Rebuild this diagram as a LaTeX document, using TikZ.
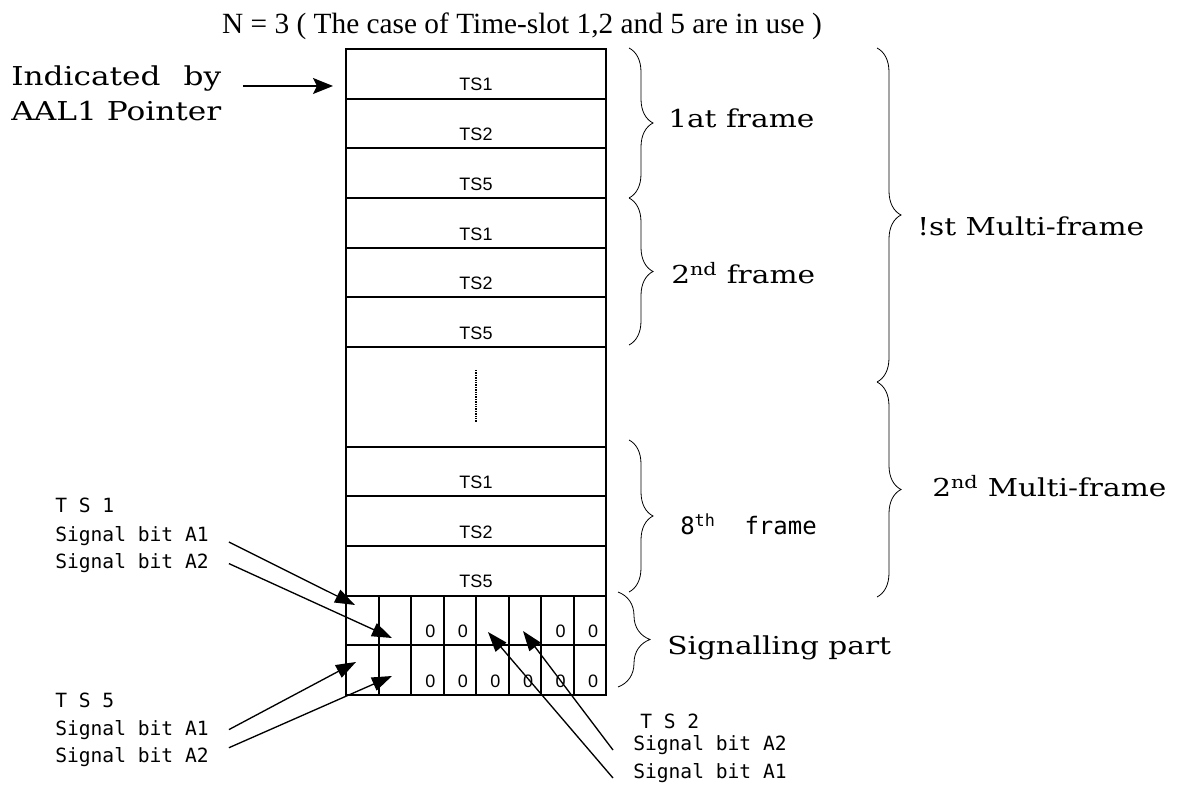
\documentclass[tikz,border=0pt]{standalone}
\usepackage{fontspec}
\usetikzlibrary{arrows.meta,decorations.pathreplacing}
\setmainfont{Liberation Serif}
\newfontfamily\labelserif[FakeStretch=1.2]{DejaVu Serif}
\newfontfamily\slotsans{Liberation Sans}
\newfontfamily\gothmono{DejaVu Sans Mono}
\newlength\ptrwidth
\settowidth\ptrwidth{\labelserif\fontsize{19.5}{23}\selectfont AAL1 Pointer}

\begin{document}
\begin{tikzpicture}[x=0.75pt,y=0.75pt,yscale=-1,xscale=1,
  frameline/.style={line width=1.5pt},
  slotlabel/.style={font=\slotsans\fontsize{13.5}{16}\selectfont, inner sep=0pt, anchor=base},
  bracelabel/.style={font=\labelserif\fontsize{18.5}{22}\selectfont, inner sep=0pt, anchor=base west},
  ptrlabel/.style={font=\labelserif\fontsize{19.5}{23}\selectfont, inner sep=0pt, anchor=base west},
  siglabel/.style={font=\gothmono\fontsize{14.7}{18}\selectfont, inner xsep=15pt, inner ysep=0pt, anchor=base west},
  sigarrow/.style={line width=1pt, -{Triangle[length=15pt,width=10.5pt]}},
  ptrarrow/.style={line width=1.1pt, -{Stealth[length=15pt,width=12pt,inset=3pt]}},
  framebrace/.style={decorate, decoration={brace, amplitude=18pt}, line width=0.6pt},
  multibrace/.style={decorate, decoration={brace, amplitude=18pt}, line width=0.6pt}
]
\useasboundingbox (0,0) rectangle (1186,787);

% Text Node
\node [font=\fontsize{22}{26}\selectfont, inner sep=0pt, anchor=base] (title) at (522,34) {N = 3 ( The case of Time-slot 1,2 and 5 are in use )};

%Shape: Rectangle
\draw [frameline] (346,49) rectangle (606,695.1);
%Straight Lines
\foreach \y in {98.7,148.4,198.1,247.8,297.5,347.2,446.6,496.3,546,595.7,645.4}
  \draw [frameline] (346,\y) -- (606,\y);
\foreach \i in {1,...,7}
  \draw [frameline] (346+32.5*\i,595.7) -- (346+32.5*\i,695.1);
%Straight Lines
\draw [line width=1pt, dash pattern=on 1pt off 0.8pt] (476,370) -- (476,422);

% Text Node
\foreach \r/\t in {0/TS1,1/TS2,2/TS5,3/TS1,4/TS2,5/TS5,8/TS1,9/TS2,10/TS5}
  \node [slotlabel] (slot\r) at (476,49+49.7*\r+42) {\t};
% Text Node
\foreach \c in {3,4,7,8}
  \node [slotlabel] (zeroa\c) at (346+32.5*\c-13,637.7) {0};
\foreach \c in {3,...,8}
  \node [slotlabel] (zerob\c) at (346+32.5*\c-13,687.4) {0};

% Text Node
\node [ptrlabel] (ptrtop) at (11,86) {\makebox[\ptrwidth][s]{Indicated by}};
\node [ptrlabel] (ptrbot) at (11,121) {AAL1 Pointer};
\coordinate (ptrtip) at (333,86);
\draw [ptrarrow] ([xshift=16pt]ptrtop.base east) -- (ptrtip);

%Curve Lines
\draw [framebrace] (629,48) -- (629,198);
\draw [framebrace] (629,198) -- (629,345);
\draw [framebrace] (629,440) -- (629,592);
\draw [framebrace, decoration={amplitude=24pt}] (618,592) -- (618,687);
\draw [multibrace] (877,48) -- (877,382);
\draw [multibrace] (877,382) -- (877,597);

% Text Node
\node [bracelabel] (frm1) at (668,128) {1at frame};
\node [bracelabel] (frm2) at (671,284) {2\textsuperscript{nd} frame};
\node [bracelabel, font=\gothmono\fontsize{18}{22}\selectfont] (frm8) at (680,535) {8\textsuperscript{th}\ \ frame};
\node [bracelabel] (sigpart) at (667,655) {Signalling part};
\node [bracelabel] (multi1) at (917,236) {!st Multi-frame};
\node [bracelabel] (multi2) at (932,497) {2\textsuperscript{nd} Multi-frame};

% Text Node
\node [siglabel] (ts1hd) at (35,513) {T S 1};
\node [siglabel] (ts1a) at (35,542) {Signal bit A1};
\node [siglabel] (ts1b) at (35,569) {Signal bit A2};
\node [siglabel] (ts5hd) at (35,707) {T S 5};
\node [siglabel] (ts5a) at (35,735) {Signal bit A1};
\node [siglabel] (ts5b) at (35,763) {Signal bit A2};
\node [siglabel] (ts2hd) at (620,729) {T S 2};
\node [siglabel] (ts2b) at (613,750) {Signal bit A2};
\node [siglabel] (ts2a) at (613,778) {Signal bit A1};

\coordinate (tip1a) at (355,605);
\coordinate (tip1b) at (392,638);
\coordinate (tip5a) at (356,662);
\coordinate (tip5b) at (392,676);
\coordinate (tip2a) at (488,632);
\coordinate (tip2b) at (523,631);

%Straight Lines
\draw [sigarrow] (ts1a.base east) -- (tip1a);
\draw [sigarrow] (ts1b.east) -- (tip1b);
\draw [sigarrow] (ts5a.east) -- (tip5a);
\draw [sigarrow] (ts5b.north east) -- (tip5b);
\draw [sigarrow] (ts2b.base west) -- (tip2b);
\draw [sigarrow] (ts2a.base west) -- (tip2a);

\end{tikzpicture}
\end{document}
